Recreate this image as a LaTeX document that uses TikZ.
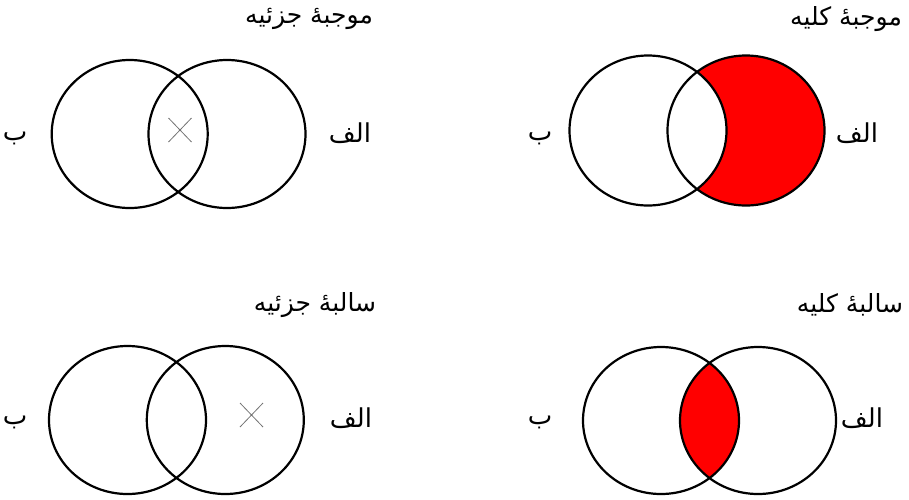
\documentclass[tikz,border=0pt]{standalone}
\usepackage{fontspec}
\TeXXeTstate=1
\newfontfamily\arabicfont[Script=Arabic]{DejaVu Sans}
\begin{document}
\begin{tikzpicture}[x=1pt,y=-1pt,
  circ/.style={draw=black,line width=2.2pt},
  lbl/.style={font=\arabicfont\fontsize{26}{29}\selectfont,inner sep=0pt},
  ttl/.style={font=\arabicfont\fontsize{25}{28}\selectfont,inner sep=0pt},
  xmark/.style={draw=gray!90!black,line width=0.8pt}]
\useasboundingbox (0,0) rectangle (909,499);
% ---- top-right: موجبه کلیه (right minus left)
\fill[red] (746,130.5) ellipse [x radius=78.5,y radius=75];
\fill[white] (648,130.5) ellipse [x radius=78.5,y radius=75];
\draw[circ] (648,130.5) ellipse [x radius=78.5,y radius=75];
\draw[circ] (746,130.5) ellipse [x radius=78.5,y radius=75];
% ---- bottom-right: سالبه کلیه (intersection)
\begin{scope}
\clip (661,420.5) ellipse [x radius=78,y radius=73.5];
\fill[red] (758,420.5) ellipse [x radius=78,y radius=73.5];
\end{scope}
\draw[circ] (661,420.5) ellipse [x radius=78,y radius=73.5];
\draw[circ] (758,420.5) ellipse [x radius=78,y radius=73.5];
% ---- top-left: موجبه جزئیه
\draw[circ] (129.7,134) ellipse [x radius=78,y radius=74];
\draw[circ] (227,134) ellipse [x radius=78.5,y radius=74];
\draw[xmark] (168.5,118) -- (191.5,142) (168.5,142) -- (191.5,118);
% ---- bottom-left: سالبه جزئیه
\draw[circ] (127.5,420) ellipse [x radius=78.5,y radius=74];
\draw[circ] (225.3,420) ellipse [x radius=78.5,y radius=74];
\draw[xmark] (240,403) -- (263,427) (240,427) -- (263,403);
% ---- titles
\node[ttl] (t1) at (309,19) {\beginR موجبهٔ جزئیه\endR};
\node[ttl] (t2) at (846,19) {\beginR موجبهٔ کلیه\endR};
\node[ttl] (t3) at (315,305) {\beginR سالبهٔ جزئیه\endR};
\node[ttl] (t4) at (850,305) {\beginR سالبهٔ کلیه\endR};
% ---- labels
\node[lbl] (b1) at (15,138) {\beginR ب\endR};
\node[lbl] (a1) at (350,133) {\beginR الف\endR};
\node[lbl] (b2) at (540,138) {\beginR ب\endR};
\node[lbl] (a2) at (857,133) {\beginR الف\endR};
\node[lbl] (b3) at (15,422) {\beginR ب\endR};
\node[lbl] (a3) at (351,418) {\beginR الف\endR};
\node[lbl] (b4) at (540,422) {\beginR ب\endR};
\node[lbl] (a4) at (862,418) {\beginR الف\endR};
\end{tikzpicture}
\end{document}
